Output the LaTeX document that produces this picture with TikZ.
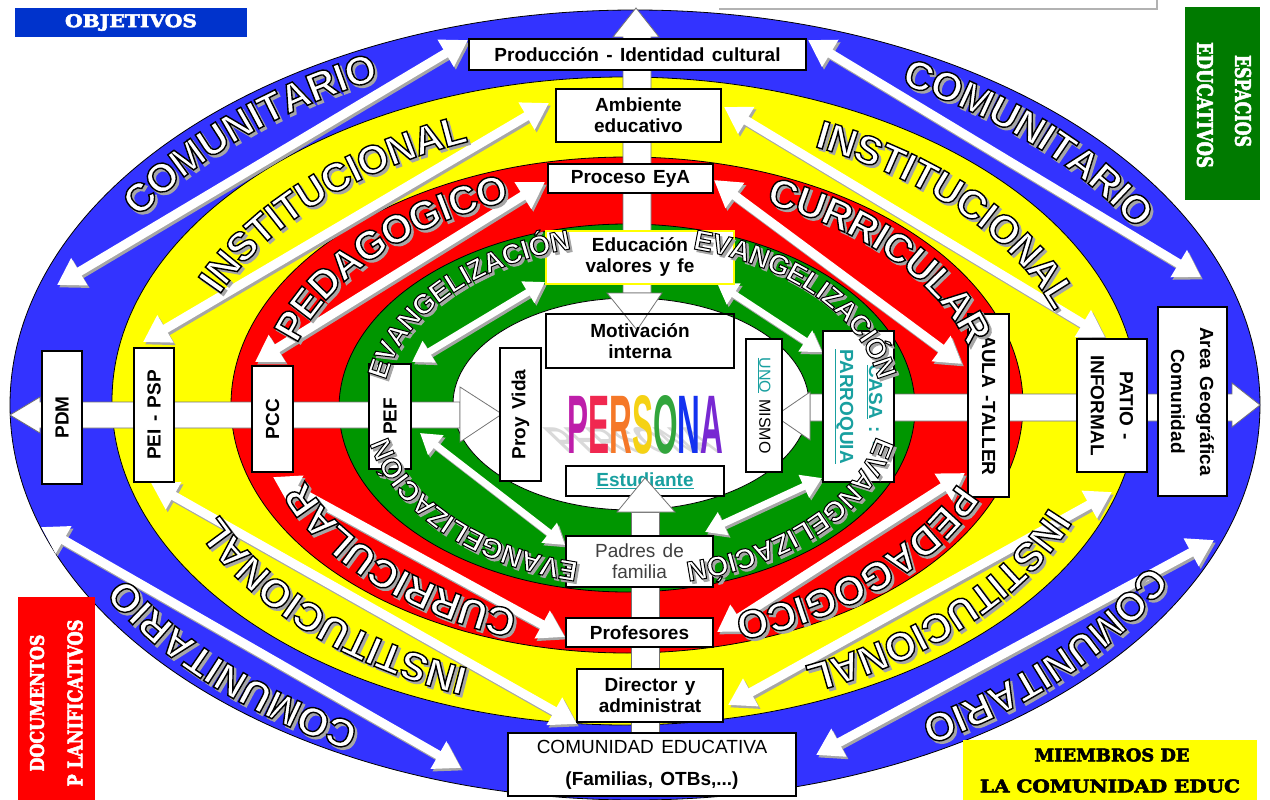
\documentclass[tikz,border=0pt]{standalone}
\usepackage{fontspec}
\setsansfont{Liberation Sans}[WordSpace=1.4]
\newfontfamily\headfont{DejaVu Serif Bold}[FakeBold=3]
\newfontfamily\ringfamily{Liberation Sans Bold}[FakeBold=3.5]
\usepackage{graphicx}
\usetikzlibrary{arrows.meta,decorations.text}

\definecolor{ringblue}{RGB}{51,51,255}
\definecolor{ringyellow}{RGB}{255,255,0}
\definecolor{ringred}{RGB}{255,0,0}
\definecolor{ringgreen}{RGB}{0,150,0}
\definecolor{objblue}{RGB}{0,51,204}
\definecolor{espgreen}{RGB}{0,122,0}
\definecolor{tealtxt}{RGB}{25,160,160}
\definecolor{pP}{RGB}{190,30,170}
\definecolor{pE}{RGB}{240,40,80}
\definecolor{pR}{RGB}{245,120,40}
\definecolor{pS}{RGB}{245,210,20}
\definecolor{pO}{RGB}{50,165,60}
\definecolor{pN}{RGB}{20,50,240}
\definecolor{pA}{RGB}{120,40,210}

\newcommand\boxfont{\sffamily\bfseries\fontsize{19}{21}\selectfont}
\newcommand\bigring{\ringfamily\fontsize{40}{44}\selectfont}
\newcommand\smallring{\ringfamily\fontsize{28}{30}\selectfont}

% word along a ring: radii, angle, half span, font, raise, word
\newcommand\ringlabel[7]{%
  \path[shift={(2.5pt,-2.5pt)}, decorate, decoration={text along path, text align=center, raise=#6,
      text={|#5\color{black!35}\pgfsetstrokecolor{black!35}|#7}}]
    (632,405) ++({-(#3+#4)}:#1 and #2) arc[start angle={-(#3+#4)}, end angle={-(#3-#4)}, x radius=#1, y radius=#2];
  \path[decorate, decoration={text along path, text align=center, raise=#6,
      text={|#5\color{white}\pgfsetstrokecolor{black}|#7}}]
    (632,405) ++({-(#3+#4)}:#1 and #2) arc[start angle={-(#3+#4)}, end angle={-(#3-#4)}, x radius=#1, y radius=#2];
}

\begin{document}
\begin{tikzpicture}[x=1pt, y=-1pt,
    banda/.style={draw=black, line width=0.8pt},
    barra/.style={fill=white, draw=black!55, line width=0.8pt},
    caja/.style={draw, line width=2.4pt, fill=white, font=\boxfont, align=center, inner sep=1pt},
    flecha/.style={white, line width=9pt, {Triangle[width=30pt,length=26pt]}-{Triangle[width=30pt,length=26pt]}},
    sombra/.style={black!35, line width=9pt, {Triangle[width=30pt,length=26pt]}-{Triangle[width=30pt,length=26pt]},
      transform canvas={shift={(2pt,-2.5pt)}}},
    flechita/.style={white, line width=7pt, {Triangle[width=24pt,length=20pt]}-{Triangle[width=24pt,length=20pt]}},
    sombrita/.style={black!35, line width=7pt, {Triangle[width=24pt,length=20pt]}-{Triangle[width=24pt,length=20pt]},
      transform canvas={shift={(2pt,-2.5pt)}}},
    rotulo/.style={inner sep=0, text=white}]
  \useasboundingbox (0,0) rectangle (1270,800);
  \fill[white] (0,0) rectangle (1270,800);

  % rings
  \filldraw[banda, fill=ringblue] (635,405) ellipse [x radius=625, y radius=395];
  \filldraw[banda, fill=ringyellow] (625,401) ellipse [x radius=513, y radius=324];
  \filldraw[banda, fill=ringred] (627,405) ellipse [x radius=396, y radius=248];
  \filldraw[banda, fill=ringgreen] (627,408) ellipse [x radius=288, y radius=184];
  \filldraw[banda, fill=white] (631,404) ellipse [x radius=178, y radius=106];

  % axes
  \filldraw[barra] (623,293) -- (623,37) -- (613,37) -- (636,8) -- (659,37) -- (651,37) -- (651,293) -- cycle;
  \filldraw[barra] (460,402) -- (40,402) -- (40,397) -- (10,415) -- (40,433) -- (40,428) -- (460,428) -- cycle;
  \filldraw[barra] (810,394) -- (1232,394) -- (1232,383) -- (1260,405) -- (1232,427) -- (1232,421) -- (810,421) -- cycle;
  \filldraw[barra] (631,512) rectangle (659,795);
  \filldraw[barra] (607,293) -- (662,293) -- (637,330) -- cycle;
  \filldraw[barra] (460,387) -- (502,414) -- (460,442) -- cycle;
  \filldraw[barra] (810,392) -- (775,416) -- (810,440) -- cycle;

  % ends of the ring arrows
  \coordinate (b-tl-1) at (57,285);   \coordinate (b-tl-2) at (468,40);
  \coordinate (y-tl-1) at (143,342);  \coordinate (y-tl-2) at (549,103);
  \coordinate (r-tl-1) at (255,362);  \coordinate (r-tl-2) at (545,182);
  \coordinate (g-tl-1) at (412,362);  \coordinate (g-tl-2) at (545,282);
  \coordinate (b-tr-1) at (808,40);   \coordinate (b-tr-2) at (1201,277);
  \coordinate (y-tr-1) at (724,107);  \coordinate (y-tr-2) at (1105,337);
  \coordinate (r-tr-1) at (714,180);  \coordinate (r-tr-2) at (962,364);
  \coordinate (g-tr-1) at (717,283);  \coordinate (g-tr-2) at (822,352);
  \coordinate (b-bl-1) at (41,527);   \coordinate (b-bl-2) at (461,768);
  \coordinate (y-bl-1) at (151,483);  \coordinate (y-bl-2) at (577,724);
  \coordinate (r-bl-1) at (273,477);  \coordinate (r-bl-2) at (565,637);
  \coordinate (g-bl-1) at (420,433);  \coordinate (g-bl-2) at (565,545);
  \coordinate (b-br-1) at (816,755);  \coordinate (b-br-2) at (1214,540);
  \coordinate (y-br-1) at (728,705);  \coordinate (y-br-2) at (1112,492);
  \coordinate (r-br-1) at (717,632);  \coordinate (r-br-2) at (965,473);
  \coordinate (g-br-1) at (705,532);  \coordinate (g-br-2) at (822,478);

  \foreach \a in {b-tl,y-tl,r-tl,b-tr,y-tr,r-tr,b-bl,y-bl,r-bl,b-br,y-br,r-br}{
    \draw[sombra] (\a-1) -- (\a-2);
    \draw[flecha] (\a-1) -- (\a-2);
  }
  \foreach \a in {g-tl,g-tr,g-bl,g-br}{
    \draw[sombrita] (\a-1) -- (\a-2);
    \draw[flechita] (\a-1) -- (\a-2);
  }

  % vertical axis
  \node[caja, minimum width=337, minimum height=31] (produccion) at (637.5,54.5) {Producción - Identidad cultural};
  \node[caja, minimum width=165, minimum height=53] (ambiente) at (638.5,115.5) {Ambiente\\educativo};
  \node[caja, minimum width=165, minimum height=29] (proceso) at (630.5,178.5) {Proceso EyA};
  \node[caja, draw=ringyellow, line width=2pt, minimum width=188, minimum height=53] (educacion) at (640,257.5) {Educación\\valores y fe};
  \node[caja, fill=none, minimum width=188, minimum height=54] (motivacion) at (640,341) {Motivación\\interna};
  \node[caja, text=tealtxt, minimum width=158, minimum height=30] (estudiante) at (645,481) {\underline{Estudiante}};
  \filldraw[barra] (617,512) -- (675,512) -- (645,478) -- cycle;
  \node[caja, font=\sffamily\fontsize{19}{21}\selectfont, text=black!75, minimum width=147, minimum height=51] (padres) at (639.5,561.5) {Padres de\\familia};
  \node[caja, minimum width=147, minimum height=29] (profesores) at (639.5,632.5) {Profesores};
  \node[caja, minimum width=146, minimum height=53] (director) at (650,695.5) {Director y\\administrat};
  \node[caja, font=\sffamily\fontsize{19}{32}\selectfont, minimum width=288, minimum height=63] (comunidad) at (652,764.5)
    {COMUNIDAD EDUCATIVA\\\textbf{(Familias, OTBs,...)}};

  % horizontal axis
  \node[caja, rotate=90, minimum width=133, minimum height=40] (pdm) at (62,417.5) {PDM};
  \node[caja, rotate=90, minimum width=134, minimum height=40] (peipsp) at (154,415) {PEI - PSP};
  \node[caja, rotate=90, minimum width=106, minimum height=41] (pcc) at (272.5,419) {PCC};
  \node[caja, rotate=90, minimum width=105, minimum height=42] (pef) at (390,416.5) {PEF};
  \node[caja, rotate=90, minimum width=133, minimum height=41] (proyvida) at (520.5,414.5) {Proy Vida};
  \node[caja, rotate=-90, font=\sffamily\fontsize{16}{18}\selectfont, minimum width=133, minimum height=36] (unomismo) at (764,405.5)
    {\textcolor{tealtxt}{\underline{UNO}} MISMO};
  \node[caja, rotate=-90, text=tealtxt, font=\sffamily\bfseries\fontsize{19}{29}\selectfont, minimum width=151, minimum height=71] (casa) at (858.5,406.5)
    {\underline{CASA} : -\\\underline{PARROQUIA}};
  \node[caja, rotate=-90, minimum width=183, minimum height=41] (aula) at (988.5,405.5) {AULA -TALLER};
  \node[caja, rotate=-90, font=\sffamily\bfseries\fontsize{19}{29}\selectfont, minimum width=133, minimum height=70] (patio) at (1112,405.5) {PATIO -\\INFORMAL};
  \node[caja, rotate=-90, font=\sffamily\bfseries\fontsize{19}{29}\selectfont, minimum width=189, minimum height=69] (area) at (1192.5,401.5) {Area Geográfica\\Comunidad};

  % person
  \begin{scope}[shift={(567,453)}, cm={1,0,-0.47,0.45,(0,0)}]
    \node[transform shape, anchor=base west, inner sep=0, text=black!15] (personasombra) at (0,0)
      {\resizebox{156pt}{58pt}{\sffamily\bfseries PERSONA}};
  \end{scope}
  \node[anchor=base west, inner sep=0] (persona) at (567,453)
    {\resizebox{156pt}{58pt}{\sffamily\bfseries\textcolor{pP}{P}\textcolor{pE}{E}\textcolor{pR}{R}\textcolor{pS}{S}\textcolor{pO}{O}\textcolor{pN}{N}\textcolor{pA}{A}}};

  % ring words
  \ringlabel{590}{377}{133.5}{26}{\bigring}{-14pt}{COMUNITARIO}
  \ringlabel{590}{377}{44.5}{26}{\bigring}{-14pt}{COMUNITARIO}
  \ringlabel{590}{377}{224}{26}{\bigring}{-14pt}{COMUNITARIO}
  \ringlabel{590}{377}{318}{26}{\bigring}{-14pt}{COMUNITARIO}
  \ringlabel{462}{297}{135.5}{32}{\bigring}{-14pt}{INSTITUCIONAL}
  \ringlabel{462}{297}{41.5}{32}{\bigring}{-14pt}{INSTITUCIONAL}
  \ringlabel{462}{297}{224.5}{32}{\bigring}{-14pt}{INSTITUCIONAL}
  \ringlabel{462}{297}{317}{32}{\bigring}{-14pt}{INSTITUCIONAL}
  \ringlabel{363}{232}{138.5}{36}{\bigring}{-14pt}{PEDAGOGICO}
  \ringlabel{363}{232}{40}{36}{\bigring}{-14pt}{CURRICULAR}
  \ringlabel{363}{232}{224}{36}{\bigring}{-14pt}{CURRICULAR}
  \ringlabel{363}{232}{314.5}{36}{\bigring}{-14pt}{PEDAGOGICO}
  \ringlabel{259}{171}{139}{42}{\smallring}{-10pt}{EVANGELIZACIÓN}
  \ringlabel{259}{171}{41}{42}{\smallring}{-10pt}{EVANGELIZACIÓN}
  \ringlabel{259}{171}{223}{42}{\smallring}{-10pt}{EVANGELIZACIÓN}
  \ringlabel{259}{171}{317}{42}{\smallring}{-10pt}{EVANGELIZACIÓN}

  % corner labels
  \draw[black!30, line width=1.5pt] (719,9) -- (1157,9) -- (1157,0);
  \node[fill=objblue, minimum width=232, minimum height=29, rotulo] (objetivos) at (131,22.5)
    {\resizebox{132pt}{13pt}{\headfont OBJETIVOS}};
  \node[fill=espgreen, minimum width=75, minimum height=193, inner sep=0] (espacios) at (1222.5,103.5) {};
  \node[rotulo, rotate=-90] (espacios1) at (1243,101) {\resizebox{92pt}{16pt}{\headfont ESPACIOS}};
  \node[rotulo, rotate=-90] (espacios2) at (1205,105) {\resizebox{126pt}{16pt}{\headfont EDUCATIVOS}};
  \node[fill=ringred, minimum width=77, minimum height=203, inner sep=0] (documentos) at (56.5,698.5) {};
  \node[rotulo, rotate=90] (documentos1) at (37,703) {\resizebox{137pt}{14pt}{\headfont DOCUMENTOS}};
  \node[rotulo, rotate=90] (documentos2) at (75,703) {\resizebox{167pt}{15pt}{\headfont P LANIFICATIVOS}};
  \node[fill=ringyellow, minimum width=294, minimum height=60, inner sep=0] (miembros) at (1110,770) {};
  \node[inner sep=0] (miembros1) at (1112,755) {\resizebox{155pt}{13pt}{\headfont MIEMBROS DE}};
  \node[inner sep=0] (miembros2) at (1110,786) {\resizebox{260pt}{13pt}{\headfont LA COMUNIDAD EDUC}};
\end{tikzpicture}
\end{document}
